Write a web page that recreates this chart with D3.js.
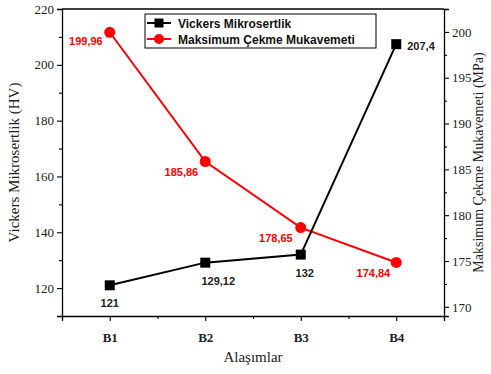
<!DOCTYPE html>
<html>
<head>
<meta charset="utf-8">
<script src="https://cdn.jsdelivr.net/npm/d3@7"></script>
<style>
  body { margin: 0; background: #fff; }
  svg { display: block; }
</style>
</head>
<body>
<script>
// Data ----------------------------------------------------------------------
var categories = ["B1", "B2", "B3", "B4"];
var vickers = [121, 129.12, 132, 207.4];
var cekme = [199.96, 185.86, 178.65, 174.84];
var vickersLabels = ["121", "129,12", "132", "207,4"];
var cekmeLabels = ["199,96", "185,86", "178,65", "174,84"];
var leftTicks = [120, 140, 160, 180, 200, 220];
var rightTicks = [170, 175, 180, 185, 190, 195, 200];

// Layout --------------------------------------------------------------------
var W = 491, H = 374;
var margin = { top: 9, right: 47, bottom: 58, left: 62 },
    width = W - margin.left - margin.right,
    height = H - margin.top - margin.bottom;

var svg = d3.select("body").append("svg")
    .attr("width", W)
    .attr("height", H);

var g = svg.append("g")
    .attr("transform", "translate(" + margin.left + "," + margin.top + ")");

// Scales
var x = d3.scaleLinear().domain([0.5, 4.5]).range([0, width]);
var yL = d3.scaleLinear().domain([110, 220]).range([height, 0]);
var yR = d3.scaleLinear().domain([169, 202.5]).range([height, 0]);

var serif = "'Liberation Serif', 'Times New Roman', serif";
var sans = "'Liberation Sans', Arial, sans-serif";

// Frame top line
g.append("line")
    .attr("x1", 0).attr("x2", width)
    .attr("y1", 0).attr("y2", 0)
    .attr("stroke", "#000").attr("stroke-width", 1.3);

// X axis
var xAxis = g.append("g")
    .attr("transform", "translate(0," + height + ")")
    .call(d3.axisBottom(x)
        .tickValues([1, 2, 3, 4])
        .tickFormat(function(d) { return categories[d - 1]; })
        .tickSize(5).tickPadding(12));
g.append("g")
    .attr("transform", "translate(0," + height + ")")
    .call(d3.axisBottom(x).tickValues([0.5, 1.5, 2.5, 3.5, 4.5]).tickSize(3).tickFormat(""))
    .select(".domain").remove();

// Left axis
var yAxisL = g.append("g")
    .call(d3.axisLeft(yL).tickValues(leftTicks).tickSize(5).tickPadding(3));
g.append("g")
    .call(d3.axisLeft(yL).tickValues([130, 150, 170, 190, 210]).tickSize(3).tickFormat(""))
    .select(".domain").remove();

// Right axis
var yAxisR = g.append("g")
    .attr("transform", "translate(" + width + ",0)")
    .call(d3.axisRight(yR).tickValues(rightTicks).tickSize(5).tickPadding(3));
g.append("g")
    .attr("transform", "translate(" + width + ",0)")
    .call(d3.axisRight(yR).tickValues([172.5, 177.5, 182.5, 187.5, 192.5, 197.5, 202.5]).tickSize(3).tickFormat(""))
    .select(".domain").remove();

g.selectAll(".domain").attr("stroke-width", 1.3).attr("d", function() {
    return d3.select(this).attr("d").replace(/V6|V-6|H6|H-6/g, "");
});
g.selectAll(".tick line").attr("stroke-width", 1.1);
[yAxisL, yAxisR].forEach(function(a) {
    a.selectAll("text").style("font-family", serif).style("font-size", "13px").attr("fill", "#222");
});
xAxis.selectAll("text").style("font-family", serif).style("font-size", "13px")
    .style("font-weight", "bold").attr("fill", "#222");

// Axis titles
svg.append("text")
    .attr("transform", "translate(19," + (margin.top + height / 2) + ") rotate(-90)")
    .attr("text-anchor", "middle")
    .style("font-family", serif).style("font-size", "15px").attr("fill", "#222")
    .text("Vickers Mikrosertlik (HV)");

svg.append("text")
    .attr("transform", "translate(483," + (margin.top + height / 2) + ") rotate(-90)")
    .attr("text-anchor", "middle")
    .style("font-family", serif).style("font-size", "14px").attr("fill", "#222")
    .text("Maksimum Çekme Mukavemeti (MPa)");

svg.append("text")
    .attr("x", margin.left + width / 2)
    .attr("y", 362)
    .attr("text-anchor", "middle")
    .style("font-family", serif).style("font-size", "15px").attr("fill", "#222")
    .text("Alaşımlar");

// Lines ---------------------------------------------------------------------
var lineL = d3.line().x(function(d, i) { return x(i + 1); }).y(function(d) { return yL(d); });
var lineR = d3.line().x(function(d, i) { return x(i + 1); }).y(function(d) { return yR(d); });

g.append("path").datum(cekme)
    .attr("d", lineR).attr("fill", "none")
    .attr("stroke", "#ff0000").attr("stroke-width", 2);

g.append("path").datum(vickers)
    .attr("d", lineL).attr("fill", "none")
    .attr("stroke", "#000").attr("stroke-width", 2);

g.selectAll(".sq").data(vickers).enter().append("rect")
    .attr("x", function(d, i) { return x(i + 1) - 5; })
    .attr("y", function(d) { return yL(d) - 5; })
    .attr("width", 10).attr("height", 10)
    .attr("fill", "#000");

g.selectAll(".dot").data(cekme).enter().append("circle")
    .attr("cx", function(d, i) { return x(i + 1); })
    .attr("cy", function(d) { return yR(d); })
    .attr("r", 5.5)
    .attr("fill", "#ff0000");

// Data labels
var vOff = [[0, 22, "middle"], [13, 22, "middle"], [4, 22, "middle"], [11, 6, "start"]];
var cOff = [[-7, 13, "end"], [-7, 15, "end"], [-8, 14, "end"], [-6, 15, "end"]];

g.selectAll(".vl").data(vickers).enter().append("text")
    .attr("x", function(d, i) { return x(i + 1) + vOff[i][0]; })
    .attr("y", function(d, i) { return yL(d) + vOff[i][1]; })
    .attr("text-anchor", function(d, i) { return vOff[i][2]; })
    .style("font-family", sans).style("font-size", "11px").style("font-weight", "bold")
    .attr("fill", "#222")
    .text(function(d, i) { return vickersLabels[i]; });

g.selectAll(".cl").data(cekme).enter().append("text")
    .attr("x", function(d, i) { return x(i + 1) + cOff[i][0]; })
    .attr("y", function(d, i) { return yR(d) + cOff[i][1]; })
    .attr("text-anchor", function(d, i) { return cOff[i][2]; })
    .style("font-family", sans).style("font-size", "11px").style("font-weight", "bold")
    .attr("fill", "#ff0000")
    .text(function(d, i) { return cekmeLabels[i]; });

// Legend --------------------------------------------------------------------
var legend = svg.append("g").attr("transform", "translate(145,14)");
legend.append("rect")
    .attr("width", 231).attr("height", 34)
    .attr("fill", "#fff").attr("stroke", "#000").attr("stroke-width", 1);

var legendItems = [
    { name: "Vickers Mikrosertlik", color: "#000", shape: "square" },
    { name: "Maksimum Çekme Mukavemeti", color: "#ff0000", shape: "circle" }
];
legendItems.forEach(function(item, i) {
    var yy = 9 + i * 16;
    var row = legend.append("g").attr("transform", "translate(0," + yy + ")");
    row.append("line").attr("x1", 2).attr("x2", 26).attr("y1", 0).attr("y2", 0)
        .attr("stroke", item.color).attr("stroke-width", 2);
    if (item.shape === "square") {
        row.append("rect").attr("x", 9.5).attr("y", -4.5).attr("width", 9).attr("height", 9)
            .attr("fill", item.color);
    } else {
        row.append("circle").attr("cx", 14).attr("cy", 0).attr("r", 5).attr("fill", item.color);
    }
    row.append("text").attr("x", 33).attr("y", 4.5)
        .style("font-family", sans).style("font-size", "12px").style("font-weight", "bold")
        .attr("fill", "#111")
        .text(item.name);
});
</script>
</body>
</html>
